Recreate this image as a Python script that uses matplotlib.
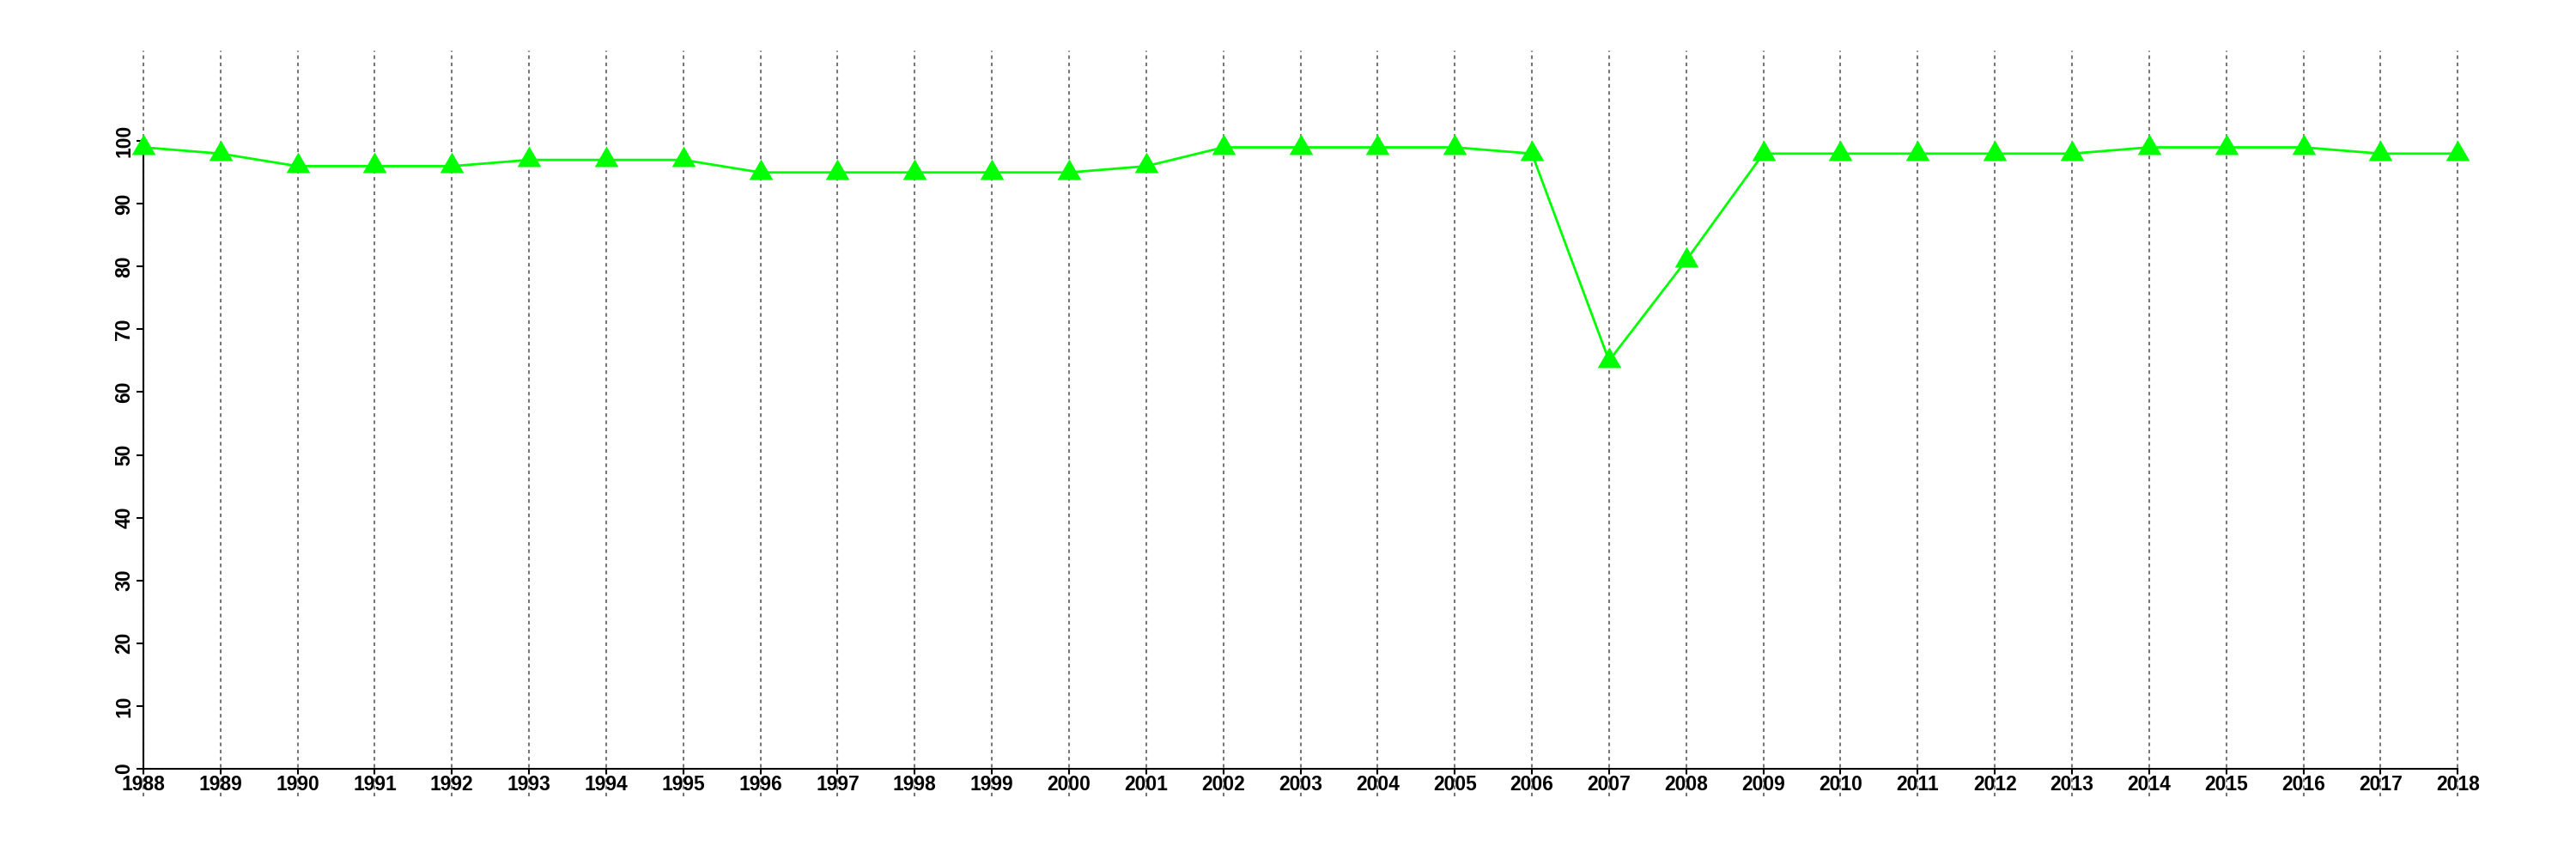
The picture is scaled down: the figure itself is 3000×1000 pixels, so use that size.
import numpy as np
import matplotlib
matplotlib.use("Agg")
import matplotlib.pyplot as plt

# dati
anni = list(range(1988, 2019))
valori = [99, 98, 96, 96, 96, 97, 97, 97, 95, 95, 95, 95, 95, 96,
          99, 99, 99, 99, 98, 65, 81, 98, 98, 98, 98, 98, 99, 99, 99, 98, 98]
y_ticks = list(range(0, 101, 10))

plt.rcParams['font.family'] = ['Liberation Sans', 'DejaVu Sans']

fig = plt.figure(figsize=(30, 10), dpi=100)
ax = fig.add_axes([0.0197, 0.073, 0.9703, 0.868])

# griglia verticale tratteggiata
for a in anni:
    ax.axvline(a, color="#777777", lw=1.5, dashes=(2, 2), zorder=1)

# triangolo equilatero come il pch=17 di R
tri = [(-1, -0.5774), (1, -0.5774), (0, 1.1547)]
ax.plot(anni, valori, color="#00FF00", lw=2, marker=tri, markersize=23,
        markerfacecolor="#00FF00", markeredgewidth=0, zorder=3, clip_on=False)

ax.set_xlim(1988 - 1.2, 2018 + 1.2)
ax.set_ylim(-4.4, 114.4)

for s in ["top", "right"]:
    ax.spines[s].set_visible(False)
ax.spines["left"].set_position(("data", 1988))
ax.spines["bottom"].set_position(("data", 0))
ax.spines["left"].set_bounds(0, 100)
ax.spines["bottom"].set_bounds(1988, 2018)
ax.spines["left"].set_linewidth(1.5)
ax.spines["bottom"].set_linewidth(1.5)

ax.set_xticks(anni)
ax.set_xticklabels([str(a) for a in anni], fontsize=16.5, fontweight="bold")
ax.set_yticks(y_ticks)
ax.set_yticklabels([str(v) for v in y_ticks], fontsize=16.5, fontweight="bold",
                   rotation=90, va="center")
ax.tick_params(axis="x", direction="out", length=4.5, width=1.5, pad=1)
ax.tick_params(axis="y", direction="out", length=6, width=1.5, pad=1.5)

fig.savefig("out.png", dpi=100)
